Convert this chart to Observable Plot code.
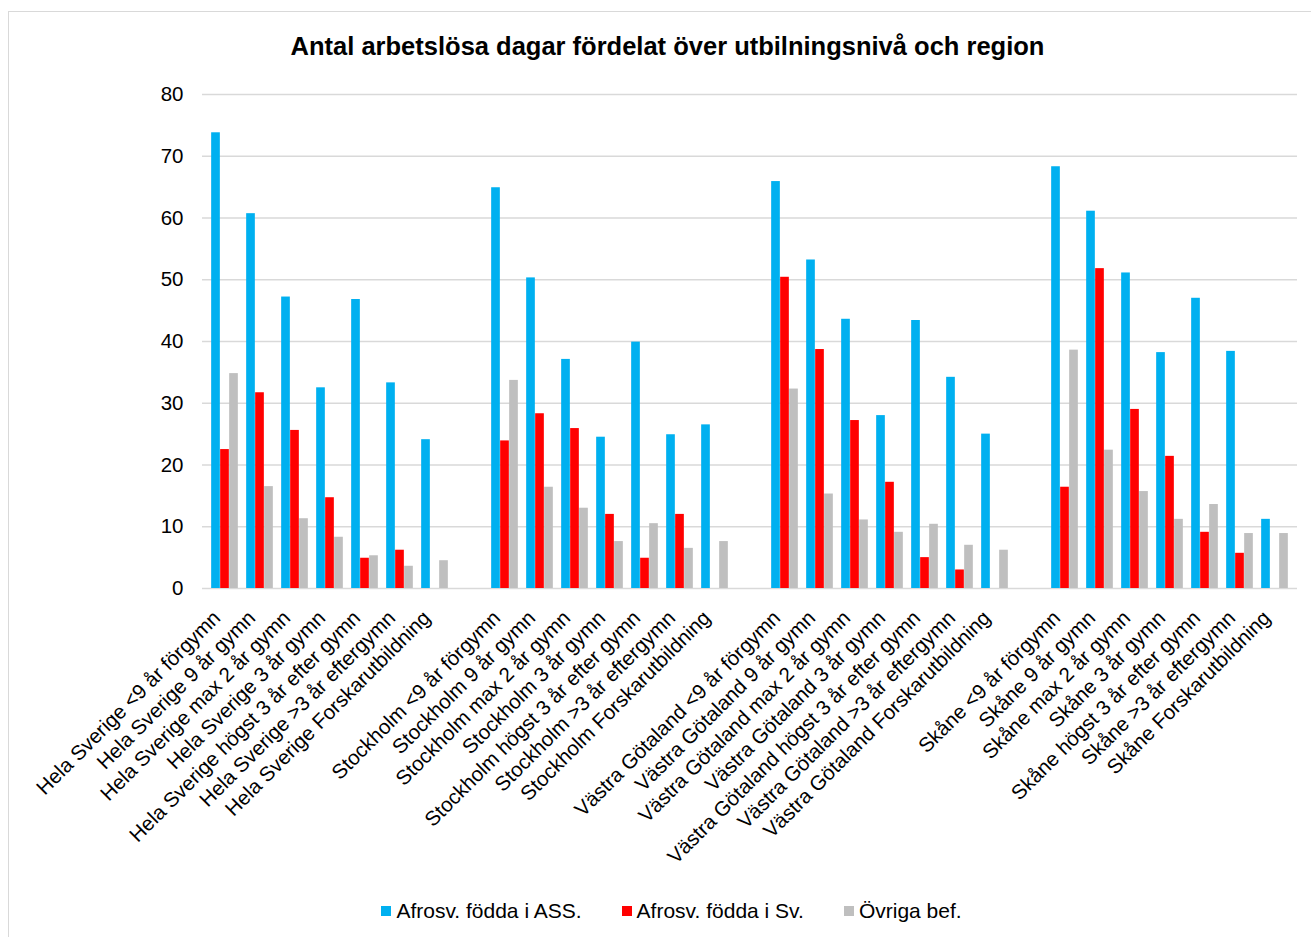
<!DOCTYPE html>
<html>
<head>
<meta charset="utf-8">
<script src="https://cdn.jsdelivr.net/npm/d3@7"></script>
<script src="https://cdn.jsdelivr.net/npm/@observablehq/plot@0.6"></script>
<style>
  html, body { margin: 0; padding: 0; background: #fff; overflow: hidden; }
  #wrap { position: relative; width: 1311px; height: 937px; overflow: hidden; font-family: "Liberation Sans", Arial, sans-serif; }
  #frame { position: absolute; left: 8px; top: 11px; width: 1400px; height: 1000px; border: 1.5px solid #d9d9d9; box-sizing: border-box; }
  #title { position: absolute; left: 12px; width: 1311px; top: 31px; text-align: center; font-weight: bold; font-size: 25.5px; line-height: 30px; color: #000; }
  #chart { position: absolute; left: 0; top: 0; }
  #legend { position: absolute; left: 16px; width: 1311px; top: 899px; display: flex; justify-content: center; gap: 40px; font-size: 21px; line-height: 24px; color: #000; }
  #legend .item { display: flex; align-items: center; }
  #legend .sw { width: 10px; height: 10px; margin-right: 5px; }
</style>
</head>
<body>
<div id="wrap">
  <div id="frame"></div>
  <div id="title">Antal arbetslösa dagar fördelat över utbilningsnivå och region</div>
  <div id="chart"></div>
  <div id="legend"></div>
</div>
<script>
const regions = ["Hela Sverige", "Stockholm", "Västra Götaland", "Skåne"];
const levels = ["<9 år förgymn", "9 år gymn", "max 2 år gymn", "3 år gymn", "högst 3 år efter gymn", ">3 år eftergymn", "Forskarutbildning"];
const seriesNames = ["Afrosv. födda i ASS.", "Afrosv. födda i Sv.", "Övriga bef."];
const seriesColors = ["#00b0f0", "#ff0000", "#bfbfbf"];

// values in order: region by region, level by level
const afroASS = [73.8, 60.7, 47.2, 32.5, 46.8, 33.3, 24.1,
                 64.9, 50.3, 37.1, 24.5, 39.9, 24.9, 26.5,
                 65.9, 53.2, 43.6, 28.0, 43.4, 34.2, 25.0,
                 68.3, 61.1, 51.1, 38.2, 47.0, 38.4, 11.2];
const afroSv  = [22.5, 31.7, 25.6, 14.7, 4.9, 6.2, null,
                 23.9, 28.3, 25.9, 12.0, 4.9, 12.0, null,
                 50.4, 38.7, 27.2, 17.2, 5.0, 3.0, null,
                 16.4, 51.8, 29.0, 21.4, 9.1, 5.7, null];
const ovriga  = [34.8, 16.5, 11.3, 8.3, 5.3, 3.6, 4.5,
                 33.7, 16.4, 13.0, 7.6, 10.5, 6.5, 7.6,
                 32.3, 15.3, 11.1, 9.1, 10.4, 7.0, 6.2,
                 38.6, 22.4, 15.7, 11.2, 13.6, 8.9, 8.9];
const yTicks = [0, 10, 20, 30, 40, 50, 60, 70, 80];

// build category domain (with a blank slot between regions)
const categories = [];
const labels = [];
regions.forEach((r, i) => {
  if (i > 0) categories.push(" ".repeat(i));
  levels.forEach(l => { categories.push(r + " " + l); labels.push(r + " " + l); });
});

const allSeries = [afroASS, afroSv, ovriga];
const rows = allSeries.map(vals => labels.map((c, j) => ({cat: c, value: vals[j]})));

const barW = 9;
const W = 1311, H = 890;
const mL = 202, mR = 14, mT = 94, mB = 302;
const band = (W - mL - mR) / categories.length;
const inset = (band - barW) / 2;

const chart = Plot.plot({
  width: W,
  height: H,
  marginLeft: mL,
  marginRight: mR,
  marginTop: mT,
  marginBottom: mB,
  style: {fontFamily: '"Liberation Sans", Arial, sans-serif', fontSize: "20.5px", color: "#000", background: "transparent", overflow: "visible"},
  x: {domain: categories, padding: 0, tickSize: 0, tickPadding: 26, tickRotate: -45, label: null, tickFormat: d => d.trim()},
  y: {domain: [0, 80], ticks: yTicks, tickSize: 0, tickPadding: 19, label: null},
  marks: [
    Plot.ruleY(yTicks, {stroke: "#d9d9d9", strokeWidth: 1.5}),
    ...rows.map((data, k) => Plot.barY(data, {
      x: "cat", y: "value", fill: seriesColors[k],
      insetLeft: inset, insetRight: inset, dx: (k - 1) * barW
    }))
  ]
});

// nudge the rotated x tick labels slightly left (style offset only)
chart.querySelectorAll('g[aria-label^="x-axis"]').forEach(g => {
  const wrapper = document.createElementNS("http://www.w3.org/2000/svg", "g");
  wrapper.setAttribute("transform", "translate(-8,0)");
  g.parentNode.insertBefore(wrapper, g);
  wrapper.appendChild(g);
});
document.getElementById("chart").appendChild(chart);

const legend = document.getElementById("legend");
seriesNames.forEach((n, k) => {
  const it = document.createElement("div");
  it.className = "item";
  const sw = document.createElement("div");
  sw.className = "sw";
  sw.style.background = seriesColors[k];
  const tx = document.createElement("span");
  tx.textContent = n;
  it.appendChild(sw); it.appendChild(tx);
  legend.appendChild(it);
});
</script>
</body>
</html>
